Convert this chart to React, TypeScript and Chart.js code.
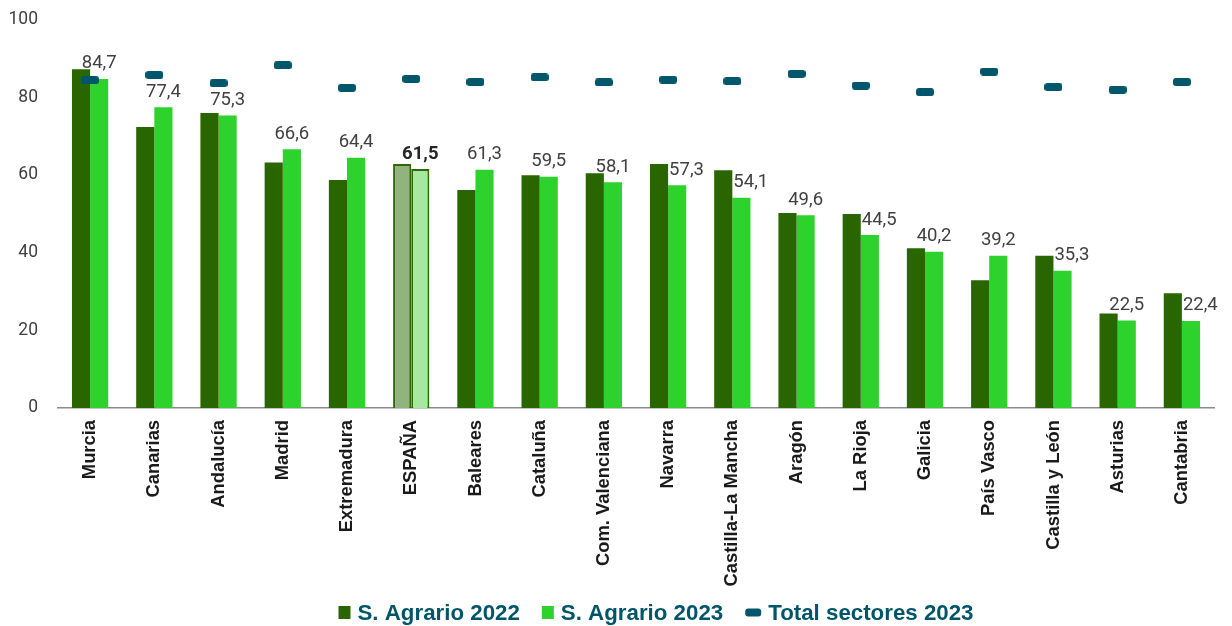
import React, { useEffect, useRef } from "react";
import { Chart, registerables } from "chart.js";

Chart.register(...registerables);

const regions = [
  "Murcia", "Canarias", "Andalucía", "Madrid", "Extremadura", "ESPAÑA",
  "Baleares", "Cataluña", "Com. Valenciana", "Navarra", "Castilla-La Mancha",
  "Aragón", "La Rioja", "Galicia", "País Vasco", "Castilla y León",
  "Asturias", "Cantabria",
];
const agrario2022 = [87.2, 72.3, 75.9, 63.2, 58.7, 62.8, 56.1, 59.9, 60.4, 62.8, 61.2, 50.2, 49.9, 41.1, 32.9, 39.2, 24.3, 29.5];
const agrario2023 = [84.7, 77.4, 75.3, 66.6, 64.4, 61.5, 61.3, 59.5, 58.1, 57.3, 54.1, 49.6, 44.5, 40.2, 39.2, 35.3, 22.5, 22.4];
const totalSectores2023 = [84.4, 85.7, 83.6, 88.2, 82.4, 84.7, 83.9, 85.1, 83.8, 84.5, 84.1, 86.0, 83.0, 81.3, 86.6, 82.6, 81.9, 83.9];
const seriesNames = ["S. Agrario 2022", "S. Agrario 2023", "Total sectores 2023"];
const highlightRegion = "ESPAÑA";
const yMin = 0;
const yMax = 100;
const yStep = 20;

const DARK = "#296600";
const LIGHT = "#2dd22d";
const DARK_HL = "#93b37e";
const LIGHT_HL = "#a6e8a0";
const HL_BORDER = "#2b6a06";
const TEAL = "#00566a";
const LEGEND_TEXT = "#005568";

function makeDash(w: number, h: number, r: number, color: string) {
  const c = document.createElement("canvas");
  c.width = w;
  c.height = h;
  const ctx = c.getContext("2d")!;
  ctx.fillStyle = color;
  ctx.beginPath();
  (ctx as any).roundRect(0, 0, w, h, r);
  ctx.fill();
  return c;
}

const valueLabelsPlugin = {
  id: "valueLabels",
  afterDatasetsDraw(chart: any) {
    const ctx = chart.ctx;
    const dark = chart.getDatasetMeta(0);
    const light = chart.getDatasetMeta(1);
    ctx.save();
    light.data.forEach((bar: any, i: number) => {
      const v = agrario2023[i];
      const text = v.toFixed(1).replace(".", ",");
      const isHL = regions[i] === highlightRegion;
      ctx.font = `${isHL ? "bold " : ""}18.5px Roboto`;
      ctx.fillStyle = isHL ? "#262626" : "#404040";
      ctx.textBaseline = "alphabetic";
      const baseline = bar.y - 10.5;
      const darkTop = dark.data[i].y;
      if (baseline > darkTop + 2) {
        ctx.textAlign = "left";
        ctx.fillText(text, bar.x - bar.width / 2 + 1, baseline);
      } else {
        ctx.textAlign = "center";
        ctx.fillText(text, bar.x, baseline);
      }
    });
    ctx.restore();
  },
};

const legendPlugin = {
  id: "customLegend",
  afterDraw(chart: any) {
    const ctx = chart.ctx;
    ctx.save();
    ctx.font = "bold 22.3px 'Liberation Sans'";
    const markers = [
      { w: 12, h: 13, r: 0, color: DARK },
      { w: 12, h: 13, r: 0, color: LIGHT },
      { w: 16, h: 8, r: 3, color: TEAL },
    ];
    const gapMarker = 7;
    const gapItem = 22;
    const widths = seriesNames.map((n, i) => markers[i].w + gapMarker + ctx.measureText(n).width);
    const total = widths.reduce((a, b) => a + b, 0) + gapItem * (seriesNames.length - 1);
    let x = 656 - total / 2;
    const cy = 612.5;
    seriesNames.forEach((name, i) => {
      const m = markers[i];
      ctx.fillStyle = m.color;
      ctx.beginPath();
      if (m.r > 0) (ctx as any).roundRect(x, cy - m.h / 2, m.w, m.h, m.r);
      else ctx.rect(x, cy - m.h / 2, m.w, m.h);
      ctx.fill();
      ctx.fillStyle = LEGEND_TEXT;
      ctx.textAlign = "left";
      ctx.textBaseline = "alphabetic";
      ctx.fillText(name, x + m.w + gapMarker, 619.5);
      x += widths[i] + gapItem;
    });
    ctx.restore();
  },
};

export default function App() {
  const ref = useRef<HTMLCanvasElement>(null);

  useEffect(() => {
    if (!ref.current) return;
    const dash = makeDash(18, 8, 3, TEAL);
    const hl = regions.map((r) => r === highlightRegion);
    const chart = new Chart(ref.current, {
      type: "bar",
      data: {
        labels: regions,
        datasets: [
          {
            type: "bar",
            label: seriesNames[0],
            data: agrario2022,
            backgroundColor: hl.map((h) => (h ? DARK_HL : DARK)),
            borderColor: hl.map((h) => (h ? HL_BORDER : DARK)),
            borderWidth: hl.map((h) => (h ? 2 : 0)),
            categoryPercentage: 0.565,
            barPercentage: 1.0,
            order: 2,
          },
          {
            type: "bar",
            label: seriesNames[1],
            data: agrario2023,
            backgroundColor: hl.map((h) => (h ? LIGHT_HL : LIGHT)),
            borderColor: hl.map((h) => (h ? HL_BORDER : LIGHT)),
            borderWidth: hl.map((h) => (h ? 2 : 0)),
            categoryPercentage: 0.565,
            barPercentage: 1.0,
            order: 2,
          },
          {
            type: "line",
            label: seriesNames[2],
            data: totalSectores2023,
            showLine: false,
            pointStyle: dash as any,
            pointRadius: 6,
            pointHoverRadius: 6,
            borderColor: TEAL,
            backgroundColor: TEAL,
            order: 0,
          },
        ] as any,
      },
      options: {
        responsive: false,
        animation: false,
        events: [],
        layout: { padding: { left: 8, right: 18, top: 19.5, bottom: 27.5 } },
        plugins: {
          legend: { display: false },
          tooltip: { enabled: false },
          title: { display: false },
        },
        scales: {
          x: {
            grid: { display: false, drawTicks: false },
            border: { display: true, color: "#8a8a8a", width: 1.5 },
            ticks: {
              autoSkip: false,
              maxRotation: 90,
              minRotation: 90,
              padding: 12,
              color: "#1a1a1a",
              font: { family: "'Liberation Sans'", size: 18.4, weight: "bold" },
            },
            afterFit: (s: any) => {
              s.paddingLeft = 0;
              s.paddingRight = 0;
            },
          },
          y: {
            min: yMin,
            max: yMax,
            grid: { display: false, drawTicks: false },
            border: { display: false },
            ticks: {
              stepSize: yStep,
              padding: 20,
              color: "#404040",
              font: { family: "Roboto", size: 17.5 },
            },
            afterFit: (s: any) => {
              s.width = 50;
              s.paddingTop = 0;
              s.paddingBottom = 0;
            },
          },
        },
      },
      plugins: [valueLabelsPlugin, legendPlugin],
    });
    return () => chart.destroy();
  }, []);

  return (
    <div style={{ position: "fixed", left: 0, top: 0, width: 1232, height: 626, background: "#fff" }}>
      <canvas ref={ref} width={1232} height={626} style={{ display: "block" }} />
    </div>
  );
}
